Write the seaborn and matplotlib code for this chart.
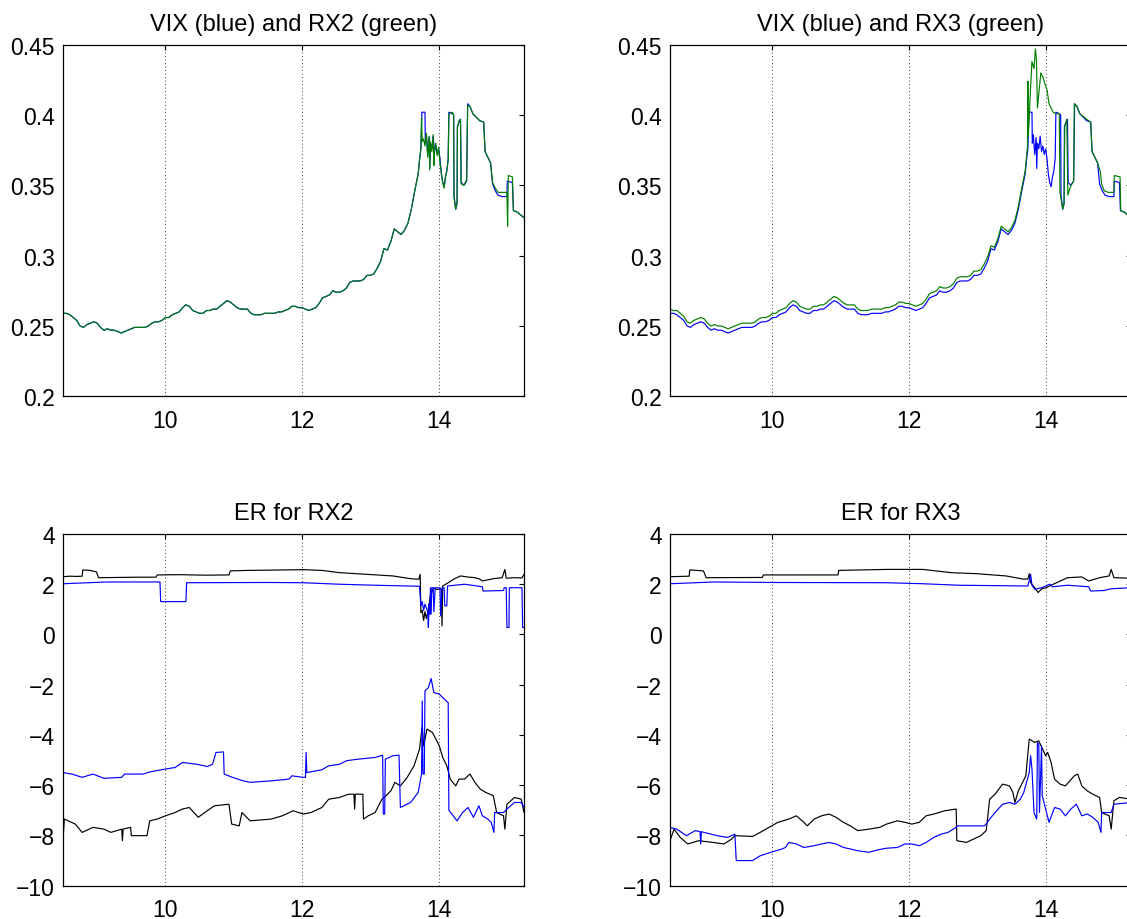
import matplotlib
matplotlib.use("Agg")
import matplotlib.pyplot as plt
import seaborn as sns

# ---------------------------------------------------------------------------
# Intraday series (time in hours)
# ---------------------------------------------------------------------------
# regular sampling of the calm part of the session
t_calm = [8.50, 8.55, 8.60, 8.65, 8.70, 8.75, 8.80, 8.85, 8.90, 8.95,
          9.00, 9.05, 9.10, 9.15, 9.20, 9.25, 9.30, 9.35, 9.40, 9.45,
          9.50, 9.55, 9.60, 9.65, 9.70, 9.75, 9.80, 9.85, 9.90, 9.95,
          10.00, 10.05, 10.10, 10.15, 10.20, 10.25, 10.30, 10.35, 10.40, 10.45,
          10.50, 10.55, 10.60, 10.65, 10.70, 10.75, 10.80, 10.85, 10.90, 10.95,
          11.00, 11.05, 11.10, 11.15, 11.20, 11.25, 11.30, 11.35, 11.40, 11.45,
          11.50, 11.55, 11.60, 11.65, 11.70, 11.75, 11.80, 11.85, 11.90, 11.95,
          12.00, 12.05, 12.10, 12.15, 12.20, 12.25, 12.30, 12.35, 12.40, 12.45,
          12.50, 12.55, 12.60, 12.65, 12.70, 12.75, 12.80, 12.85, 12.90, 12.95,
          13.00, 13.05, 13.10, 13.15, 13.20, 13.25, 13.30, 13.35, 13.40, 13.45,
          13.50, 13.55, 13.60, 13.65, 13.70]

vix_calm = [.259, .259, .258, .256, .254, .250, .249, .251, .252, .253,
            .252, .249, .247, .248, .247, .247, .246, .245, .246, .247,
            .248, .249, .249, .249, .249, .250, .252, .253, .253, .254,
            .256, .256, .258, .259, .260, .263, .265, .264, .261, .260,
            .259, .259, .261, .261, .262, .262, .264, .266, .268, .267,
            .265, .263, .262, .262, .262, .259, .258, .258, .258, .259,
            .259, .259, .259, .260, .260, .261, .262, .264, .264, .263,
            .263, .262, .261, .262, .263, .266, .270, .271, .272, .275,
            .274, .274, .275, .277, .281, .282, .282, .282, .283, .286,
            .286, .287, .291, .296, .305, .304, .310, .319, .317, .315,
            .318, .323, .333, .346, .358]

rx2_calm = [.259, .259, .258, .256, .254, .250, .249, .251, .252, .253,
            .252, .249, .247, .248, .247, .247, .246, .245, .246, .247,
            .248, .249, .249, .249, .249, .250, .252, .253, .253, .254,
            .256, .256, .258, .259, .260, .263, .265, .264, .261, .260,
            .259, .259, .261, .261, .262, .262, .264, .266, .268, .267,
            .265, .263, .262, .262, .262, .259, .258, .258, .258, .259,
            .259, .259, .259, .260, .260, .261, .262, .264, .264, .263,
            .263, .262, .261, .262, .263, .266, .270, .271, .272, .275,
            .274, .274, .275, .277, .281, .282, .282, .282, .283, .286,
            .286, .287, .291, .296, .305, .304, .310, .319, .317, .315,
            .318, .323, .333, .346, .358]

rx3_calm = [.262, .261, .261, .259, .257, .253, .252, .254, .255, .256,
            .255, .252, .250, .251, .250, .250, .249, .248, .249, .250,
            .251, .252, .252, .252, .252, .253, .255, .256, .256, .257,
            .259, .259, .261, .262, .263, .266, .268, .267, .264, .263,
            .262, .262, .264, .264, .265, .265, .267, .269, .271, .270,
            .268, .266, .265, .265, .265, .262, .261, .261, .261, .262,
            .262, .262, .262, .263, .263, .264, .265, .267, .267, .266,
            .266, .265, .264, .265, .266, .269, .273, .274, .275, .278,
            .277, .277, .278, .280, .284, .285, .285, .285, .286, .289,
            .289, .290, .294, .299, .307, .306, .312, .321, .319, .317,
            .320, .325, .335, .348, .360]

# irregular sampling of the turbulent afternoon
t_vix_late = [13.72, 13.74, 13.755, 13.80, 13.805, 13.82, 13.84, 13.86, 13.87, 13.88,
              13.90, 13.92, 13.94, 13.96, 13.98, 14.00, 14.02, 14.04, 14.06, 14.08,
              14.10, 14.12, 14.14, 14.15, 14.20, 14.22, 14.225, 14.25, 14.27, 14.275,
              14.30, 14.32, 14.33, 14.37, 14.41, 14.425, 14.46, 14.50, 14.54, 14.60,
              14.66, 14.68, 14.72, 14.76, 14.79, 14.83, 14.87, 14.93, 15.00, 15.005,
              15.08, 15.095, 15.15, 15.20, 15.25]
vix_late = [.368, .376, .402, .402, .380, .386, .372, .384, .362, .380,
            .376, .385, .374, .378, .372, .376, .369, .358, .352, .349,
            .356, .360, .369, .402, .401, .400, .343, .333, .337, .392,
            .395, .397, .352, .350, .353, .408, .406, .401, .399, .396,
            .395, .374, .370, .366, .351, .346, .343, .342, .342, .353,
            .352, .332, .331, .329, .327]

t_rx2_late = [13.72, 13.74, 13.75, 13.76, 13.78, 13.80, 13.82, 13.84, 13.86, 13.87,
              13.88, 13.90, 13.92, 13.93, 13.94, 13.96, 13.98, 14.00, 14.02, 14.04,
              14.06, 14.08, 14.10, 14.12, 14.14, 14.15, 14.20, 14.22, 14.225, 14.25,
              14.27, 14.275, 14.30, 14.32, 14.33, 14.37, 14.41, 14.425, 14.46, 14.50,
              14.54, 14.60, 14.66, 14.68, 14.72, 14.76, 14.79, 14.83, 14.87, 14.93,
              15.00, 15.01, 15.02, 15.08, 15.095, 15.15, 15.20, 15.25]
rx2_late = [.368, .376, .398, .381, .383, .378, .387, .370, .385, .361,
            .381, .374, .386, .364, .375, .380, .371, .377, .366, .359,
            .352, .348, .356, .361, .368, .401, .402, .400, .341, .333,
            .338, .391, .396, .397, .351, .350, .354, .407, .406, .401,
            .399, .396, .395, .374, .370, .366, .352, .348, .345, .345,
            .345, .321, .357, .356, .332, .331, .329, .327]

t_rx3_late = [13.72, 13.735, 13.74, 13.745, 13.76, 13.78, 13.80, 13.83, 13.85, 13.865,
              13.88, 13.90, 13.93, 13.96, 13.99, 14.02, 14.05, 14.08, 14.11, 14.15,
              14.20, 14.21, 14.25, 14.27, 14.28, 14.31, 14.325, 14.37, 14.41, 14.42,
              14.46, 14.50, 14.55, 14.60, 14.66, 14.68, 14.72, 14.76, 14.80, 14.82,
              14.86, 14.92, 15.00, 15.005, 15.09, 15.10, 15.15, 15.20, 15.25]
rx3_late = [.370, .378, .424, .385, .398, .420, .438, .433, .447, .440,
            .405, .415, .430, .427, .422, .418, .408, .405, .402, .401,
            .401, .345, .333, .337, .392, .397, .343, .350, .353, .408,
            .406, .401, .399, .397, .395, .374, .370, .366, .360, .351,
            .346, .345, .345, .357, .356, .332, .331, .329, .327]

# ER for RX2: upper and lower bands (black and blue)
t_er2_up_k = [8.50, 8.60, 8.70, 8.78, 8.79, 8.90, 8.99, 9.02, 9.30, 9.60,
              9.86, 9.88, 10.20, 10.60, 10.93, 10.95, 11.20, 11.50, 12.02, 12.29,
              12.55, 12.97, 13.33, 13.59, 13.71, 13.73, 13.74, 13.76, 13.78, 13.80,
              13.82, 13.85, 13.88, 13.93, 13.97, 14.04, 14.05, 14.06, 14.14, 14.22,
              14.32, 14.42, 14.53, 14.60, 14.64, 14.80, 14.93, 14.97, 14.99, 15.10,
              15.22, 15.25]
er2_up_k = [2.29, 2.31, 2.30, 2.31, 2.56, 2.54, 2.48, 2.25, 2.26, 2.27,
            2.27, 2.36, 2.37, 2.35, 2.36, 2.52, 2.54, 2.55, 2.57, 2.54,
            2.45, 2.38, 2.32, 2.21, 2.19, 2.38, 0.86, 0.95, 0.55, 0.90,
            0.62, 1.00, 1.55, 1.85, 1.78, 1.80, 0.33, 1.92, 2.05, 2.19,
            2.32, 2.28, 2.25, 2.20, 2.12, 2.21, 2.25, 2.58, 2.23, 2.25,
            2.24, 2.38]

t_er2_up_b = [8.50, 9.15, 9.92, 9.93, 10.30, 10.31, 11.50, 12.02, 12.55, 13.07,
              13.72, 13.74, 13.76, 13.78, 13.80, 13.84, 13.85, 13.86, 13.87, 13.88,
              13.89, 13.90, 13.92, 13.93, 13.95, 14.02, 14.03, 14.05, 14.08, 14.09,
              14.12, 14.13, 14.38, 14.64, 14.65, 14.95, 14.96, 14.99, 15.00, 15.03,
              15.035, 15.22, 15.23, 15.25]
er2_up_b = [2.01, 2.08, 2.08, 1.30, 1.30, 2.05, 2.06, 2.05, 1.99, 1.95,
            1.91, 1.13, 1.30, 0.95, 1.20, 0.90, 0.27, 1.20, 0.80, 1.85,
            0.80, 1.85, 1.85, 0.90, 1.85, 1.85, 0.73, 1.85, 1.85, 1.13,
            1.13, 1.92, 1.99, 1.89, 1.72, 1.74, 1.85, 1.85, 0.27, 0.27,
            1.85, 1.85, 0.27, 0.27]

t_er2_lo_k = [8.50, 8.52, 8.68, 8.78, 8.94, 9.10, 9.20, 9.36, 9.37, 9.38,
              9.49, 9.50, 9.73, 9.77, 9.88, 10.00, 10.14, 10.25, 10.35, 10.48,
              10.61, 10.72, 10.93, 10.97, 11.08, 11.12, 11.24, 11.55, 11.71, 11.87,
              12.02, 12.13, 12.29, 12.39, 12.55, 12.68, 12.76, 12.77, 12.78, 12.89,
              12.90, 12.97, 13.07, 13.17, 13.23, 13.30, 13.36, 13.44, 13.54, 13.64,
              13.72, 13.76, 13.78, 13.83, 13.91, 13.96, 14.01, 14.06, 14.12, 14.17,
              14.25, 14.30, 14.38, 14.43, 14.46, 14.53, 14.61, 14.69, 14.80, 14.85,
              14.95, 14.97, 15.00, 15.11, 15.21, 15.25]
er2_lo_k = [-8.15, -7.35, -7.55, -7.88, -7.68, -7.75, -7.88, -7.75, -8.21, -7.75,
            -7.68, -8.01, -8.01, -7.42, -7.35, -7.22, -7.09, -6.95, -6.89, -7.28,
            -7.02, -6.82, -6.76, -7.55, -7.62, -7.09, -7.42, -7.35, -7.22, -7.02,
            -7.15, -7.09, -6.89, -6.56, -6.49, -6.36, -6.36, -6.95, -6.36, -6.36,
            -7.35, -7.22, -7.09, -6.56, -6.42, -6.23, -5.89, -6.03, -5.69, -5.23,
            -4.57, -3.64, -4.44, -3.77, -3.91, -4.17, -4.44, -4.90, -5.23, -5.76,
            -6.03, -5.76, -5.76, -5.63, -5.56, -5.89, -6.16, -6.29, -6.42, -7.09,
            -7.22, -7.75, -6.76, -6.49, -6.56, -7.09]

t_er2_lo_b = [8.50, 8.63, 8.78, 8.94, 9.10, 9.36, 9.40, 9.67, 9.78, 10.00,
              10.14, 10.25, 10.46, 10.61, 10.69, 10.74, 10.85, 10.86, 10.98, 11.14,
              11.24, 11.55, 11.81, 11.85, 12.02, 12.05, 12.06, 12.07, 12.29, 12.39,
              12.55, 12.65, 12.81, 13.07, 13.18, 13.19, 13.21, 13.22, 13.33, 13.42,
              13.44, 13.59, 13.70, 13.75, 13.76, 13.77, 13.79, 13.80, 13.85, 13.89,
              13.93, 14.01, 14.06, 14.14, 14.15, 14.27, 14.35, 14.43, 14.51, 14.59,
              14.64, 14.72, 14.77, 14.81, 14.82, 14.95, 15.00, 15.11, 15.21, 15.25]
er2_lo_b = [-5.50, -5.56, -5.69, -5.56, -5.73, -5.69, -5.56, -5.56, -5.47, -5.36,
            -5.30, -5.10, -5.17, -5.26, -5.17, -4.70, -4.68, -5.56, -5.69, -5.83,
            -5.89, -5.83, -5.76, -5.63, -5.69, -5.69, -4.70, -5.50, -5.39, -5.23,
            -5.17, -5.03, -4.97, -4.90, -4.81, -7.15, -7.15, -4.97, -4.83, -4.81,
            -6.89, -6.69, -6.29, -5.56, -2.65, -5.56, -5.56, -2.25, -2.12, -1.76,
            -2.32, -2.38, -2.52, -2.72, -7.00, -7.42, -7.09, -6.89, -7.28, -6.82,
            -7.22, -7.35, -7.48, -7.88, -7.09, -7.09, -6.95, -6.69, -6.69, -6.89]

# ER for RX3: upper and lower bands (black and blue)
t_er3_up_k = [8.50, 8.78, 8.79, 8.99, 9.03, 9.85, 9.87, 10.96, 10.97, 11.67,
              12.20, 12.62, 12.99, 13.42, 13.68, 13.74, 13.76, 13.78, 13.84, 13.89,
              13.94, 14.00, 14.16, 14.32, 14.53, 14.63, 14.79, 14.93, 14.96, 15.00,
              15.25]
er3_up_k = [2.29, 2.31, 2.56, 2.52, 2.25, 2.26, 2.36, 2.36, 2.54, 2.58,
            2.58, 2.45, 2.41, 2.32, 2.19, 2.20, 2.41, 2.05, 1.85, 1.66,
            1.80, 1.85, 2.05, 2.25, 2.28, 2.12, 2.25, 2.32, 2.58, 2.25,
            2.23]

t_er3_up_b = [8.50, 9.14, 10.00, 11.67, 12.20, 12.73, 13.74, 13.78, 13.80, 13.84,
              13.94, 14.06, 14.10, 14.32, 14.63, 14.66, 14.85, 14.96, 15.25]
er3_up_b = [2.01, 2.08, 2.06, 2.05, 2.01, 1.95, 1.92, 2.38, 1.95, 1.79,
            1.85, 1.99, 1.89, 1.95, 1.89, 1.72, 1.74, 1.81, 1.85]

t_er3_lo_k = [8.50, 8.56, 8.65, 8.76, 8.92, 9.13, 9.29, 9.40, 9.45, 9.71,
              9.82, 9.95, 10.08, 10.24, 10.35, 10.46, 10.51, 10.61, 10.72, 10.83,
              10.93, 11.04, 11.14, 11.25, 11.41, 11.57, 11.67, 11.83, 11.94, 12.04,
              12.15, 12.25, 12.36, 12.44, 12.52, 12.69, 12.70, 12.84, 12.94, 13.05,
              13.13, 13.18, 13.26, 13.37, 13.47, 13.52, 13.55, 13.60, 13.71, 13.76,
              13.84, 13.90, 14.00, 14.03, 14.08, 14.13, 14.21, 14.29, 14.42, 14.47,
              14.53, 14.61, 14.69, 14.79, 14.82, 14.93, 14.96, 15.00, 15.08, 15.25]
er3_lo_k = [-8.21, -7.75, -8.08, -8.34, -8.21, -8.28, -8.34, -8.15, -8.01, -8.04,
            -7.88, -7.68, -7.48, -7.35, -7.22, -7.48, -7.62, -7.35, -7.22, -7.15,
            -7.28, -7.48, -7.62, -7.81, -7.75, -7.68, -7.55, -7.42, -7.48, -7.55,
            -7.48, -7.22, -7.15, -7.09, -7.02, -6.95, -8.21, -8.28, -8.15, -8.01,
            -7.81, -6.56, -6.36, -5.96, -6.03, -6.29, -6.69, -6.23, -5.63, -4.17,
            -4.30, -4.24, -4.83, -4.70, -5.10, -5.76, -5.96, -6.03, -5.63, -5.56,
            -6.03, -6.23, -6.36, -6.49, -7.09, -7.22, -7.75, -6.62, -6.49, -6.56]

t_er3_lo_b = [8.50, 8.60, 8.74, 8.87, 8.94, 8.95, 8.96, 9.00, 9.19, 9.34,
              9.45, 9.47, 9.71, 9.82, 9.98, 10.14, 10.19, 10.24, 10.35, 10.46,
              10.61, 10.72, 10.83, 10.93, 11.04, 11.14, 11.25, 11.41, 11.57, 11.67,
              11.83, 11.94, 12.04, 12.15, 12.25, 12.36, 12.47, 12.57, 12.69, 12.70,
              13.10, 13.13, 13.18, 13.26, 13.37, 13.47, 13.55, 13.63, 13.68, 13.76,
              13.78, 13.80, 13.83, 13.87, 13.88, 13.90, 13.91, 13.94, 13.95, 14.05,
              14.13, 14.21, 14.29, 14.37, 14.45, 14.53, 14.61, 14.69, 14.77, 14.81,
              14.82, 14.96, 15.00, 15.25]
er3_lo_b = [-7.68, -7.75, -8.01, -7.81, -7.85, -8.34, -7.85, -7.88, -8.01, -8.08,
            -7.95, -9.00, -9.00, -8.81, -8.67, -8.54, -8.48, -8.28, -8.34, -8.48,
            -8.41, -8.34, -8.28, -8.34, -8.48, -8.54, -8.61, -8.67, -8.56, -8.51,
            -8.48, -8.34, -8.34, -8.41, -8.28, -8.08, -7.95, -7.88, -7.68, -7.62,
            -7.62, -7.55, -7.35, -7.09, -6.76, -6.69, -6.76, -6.56, -6.29, -5.50,
            -4.83, -5.36, -7.09, -7.35, -4.30, -4.37, -7.09, -4.44, -6.42, -7.48,
            -6.89, -6.95, -7.22, -6.95, -6.76, -7.22, -7.15, -7.28, -7.48, -7.88,
            -7.09, -7.09, -6.76, -6.69]

# axis ticks
x_ticks = [10, 12, 14]
vix_ticks = [0.2, 0.25, 0.3, 0.35, 0.4, 0.45]
vix_tick_labels = ["0.2", "0.25", "0.3", "0.35", "0.4", "0.45"]
er_ticks = [-10, -8, -6, -4, -2, 0, 2, 4]

BLUE = "#0000ff"
GREEN = "#007f00"
BLACK = "#000000"

# ---------------------------------------------------------------------------
sns.set_theme(style="white")
plt.rcParams["font.family"] = ["Liberation Sans", "DejaVu Sans"]
plt.rcParams["axes.unicode_minus"] = True

W, H = 1127, 920
fig = plt.figure(figsize=(W / 100, H / 100), dpi=100)
fig.patch.set_facecolor("white")


def make_axes(x0, y_top, y_bot, x1):
    return fig.add_axes([x0 / W, 1 - y_bot / H, (x1 - x0) / W, (y_bot - y_top) / H])


ax_tl = make_axes(63, 45.7, 397.3, 524)
ax_tr = make_axes(670, 45.7, 397.3, 1131)
ax_bl = make_axes(63, 534.7, 886.7, 524)
ax_br = make_axes(670, 534.7, 886.7, 1131)


def trace(ax, t, v, color):
    sns.lineplot(x=t, y=v, ax=ax, color=color, linewidth=0.85,
                 estimator=None, sort=False, legend=False)


def style(ax, title, yticks, ylabels, ylim):
    ax.set_xlim(8.5, 15.25)
    ax.set_ylim(*ylim)
    ax.set_xticks(x_ticks)
    ax.set_xticklabels([str(v) for v in x_ticks])
    ax.set_yticks(yticks)
    ax.set_yticklabels(ylabels)
    ax.set_xlabel("")
    ax.set_ylabel("")
    ax.set_title(title, fontsize=17, pad=10.5, color="black")
    ax.tick_params(direction="in", top=True, right=True, length=3.3, width=0.8,
                   color="black", labelsize=16.5, labelcolor="black")
    ax.tick_params(axis="x", pad=9)
    ax.tick_params(axis="y", pad=6)
    ax.xaxis.grid(True, linestyle=(0, (1, 3.2)), color="black", linewidth=0.6)
    ax.yaxis.grid(False)
    ax.set_axisbelow(True)
    for sp in ax.spines.values():
        sp.set_visible(True)
        sp.set_color("black")
        sp.set_linewidth(0.9)


def int_labels(ticks):
    return [f"{v:d}".replace("-", "\u2212") for v in ticks]


# VIX vs RX2
trace(ax_tl, t_calm + t_vix_late, vix_calm + vix_late, BLUE)
trace(ax_tl, t_calm + t_rx2_late, rx2_calm + rx2_late, GREEN)
style(ax_tl, "VIX (blue) and RX2 (green)", vix_ticks, vix_tick_labels, (0.2, 0.45))

# VIX vs RX3
trace(ax_tr, t_calm + t_vix_late, vix_calm + vix_late, BLUE)
trace(ax_tr, t_calm + t_rx3_late, rx3_calm + rx3_late, GREEN)
style(ax_tr, "VIX (blue) and RX3 (green)", vix_ticks, vix_tick_labels, (0.2, 0.45))

# ER for RX2
trace(ax_bl, t_er2_up_k, er2_up_k, BLACK)
trace(ax_bl, t_er2_lo_k, er2_lo_k, BLACK)
trace(ax_bl, t_er2_up_b, er2_up_b, BLUE)
trace(ax_bl, t_er2_lo_b, er2_lo_b, BLUE)
style(ax_bl, "ER for RX2", er_ticks, int_labels(er_ticks), (-10, 4))

# ER for RX3
trace(ax_br, t_er3_up_k, er3_up_k, BLACK)
trace(ax_br, t_er3_lo_k, er3_lo_k, BLACK)
trace(ax_br, t_er3_up_b, er3_up_b, BLUE)
trace(ax_br, t_er3_lo_b, er3_lo_b, BLUE)
style(ax_br, "ER for RX3", er_ticks, int_labels(er_ticks), (-10, 4))

fig.savefig("out.png", dpi=100, facecolor="white")
